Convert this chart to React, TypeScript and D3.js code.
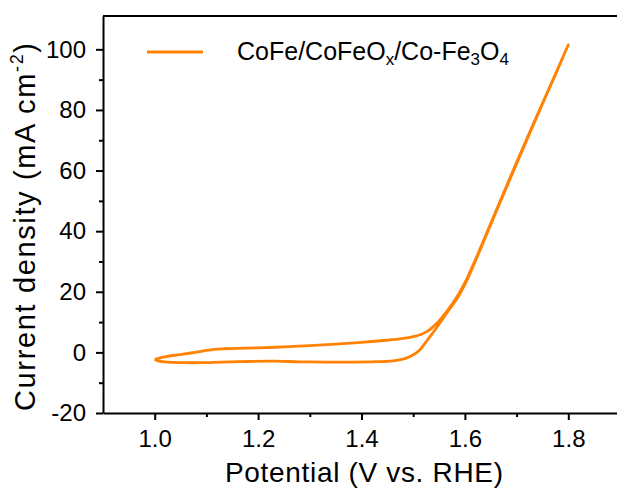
import React, { useEffect, useRef } from 'react'
import * as d3 from 'd3'

/* svg size and plot frame (right edge sits just past the window like the original) */
const width = 617
const height = 488
const margin = { top: 16, right: -3, bottom: 75, left: 103 }
const font = '"Liberation Sans", Arial, sans-serif'
const lineColor = '#ff8204'

/* CV loop: anodic sweep then the return sweep */
const forwardV = [1.0, 1.01, 1.025, 1.045, 1.07, 1.095, 1.115, 1.135, 1.16, 1.2, 1.25, 1.3, 1.35, 1.4, 1.45, 1.48, 1.5, 1.515, 1.528, 1.538, 1.55, 1.562, 1.575, 1.588, 1.6, 1.612, 1.625, 1.65, 1.675, 1.7, 1.725, 1.75, 1.775, 1.8]
const forwardJ = [-2.3, -1.8, -1.3, -0.8, -0.2, 0.5, 1.0, 1.2, 1.3, 1.5, 1.8, 2.2, 2.7, 3.3, 4.0, 4.6, 5.2, 5.9, 7.0, 8.4, 10.4, 12.9, 15.9, 19.3, 23.0, 27.4, 32.4, 42.6, 52.7, 62.7, 72.5, 82.2, 91.8, 101.5]
const reverseV = [1.775, 1.75, 1.725, 1.7, 1.675, 1.65, 1.625, 1.6, 1.588, 1.575, 1.563, 1.552, 1.542, 1.532, 1.522, 1.513, 1.503, 1.492, 1.48, 1.465, 1.445, 1.42, 1.38, 1.33, 1.28, 1.23, 1.18, 1.13, 1.09, 1.06, 1.035, 1.018, 1.005, 1.0]
const reverseJ = [91.6, 82.0, 72.2, 62.3, 52.3, 42.2, 32.0, 22.4, 18.6, 15.4, 12.5, 9.8, 7.4, 5.1, 2.8, 0.9, -0.5, -1.5, -2.2, -2.7, -3.0, -3.1, -3.2, -3.2, -3.1, -2.9, -3.0, -3.2, -3.4, -3.4, -3.3, -3.1, -2.7, -2.3]

/* axis ticks */
const xDomain = [0.9, 1.9]
const yDomain = [-20, 111]
const xMajorTicks = [1.0, 1.2, 1.4, 1.6, 1.8]
const xMinorTicks = [1.1, 1.3, 1.5, 1.7]
const yMajorTicks = [-20, 0, 20, 40, 60, 80, 100]
const yMinorTicks = [-10, 10, 30, 50, 70, 90]

const xTitle = 'Potential (V vs. RHE)'
const yTitle = 'Current density (mA cm'

export default function App() {
    const xAxis = useRef<SVGGElement>(null)
    const xAxisMinor = useRef<SVGGElement>(null)
    const yAxis = useRef<SVGGElement>(null)
    const yAxisMinor = useRef<SVGGElement>(null)

    const xScale = d3
        .scaleLinear()
        .domain(xDomain)
        .range([margin.left, width - margin.right])
    const yScale = d3
        .scaleLinear()
        .domain(yDomain)
        .range([height - margin.bottom, margin.top])

    const points = [
        ...forwardV.map((v, i) => [v, forwardJ[i]]),
        ...reverseV.map((v, i) => [v, reverseJ[i]]),
    ]
    const path = d3
        .line<number[]>()
        .x((d) => xScale(d[0]))
        .y((d) => yScale(d[1]))
        .curve(d3.curveCatmullRom.alpha(0.5))(points)

    useEffect(() => {
        const styleAxis = (sel: any) => {
            sel.select('.domain').attr('stroke-width', 2)
            sel.selectAll('.tick line').attr('stroke-width', 2)
            sel.selectAll('.tick text')
                .attr('font-size', 24)
                .attr('font-family', font)
                .attr('fill', '#000')
        }
        d3.select(xAxis.current)
            .call(
                d3.axisBottom(xScale)
                    .tickValues(xMajorTicks)
                    .tickSize(7)
                    .tickSizeOuter(0)
                    .tickPadding(10)
                    .tickFormat(d3.format('.1f'))
            )
            .call(styleAxis)
        d3.select(xAxisMinor.current)
            .call(
                d3.axisBottom(xScale)
                    .tickValues(xMinorTicks)
                    .tickSize(4)
                    .tickFormat(() => '')
            )
            .call(styleAxis)
            .select('.domain')
            .remove()
        d3.select(yAxis.current)
            .call(
                d3.axisLeft(yScale)
                    .tickValues(yMajorTicks)
                    .tickSize(7)
                    .tickSizeOuter(0)
                    .tickPadding(10)
                    .tickFormat((d) => String(d)) // plain hyphen like the original
            )
            .call(styleAxis)
        d3.select(yAxisMinor.current)
            .call(
                d3.axisLeft(yScale)
                    .tickValues(yMinorTicks)
                    .tickSize(4)
                    .tickFormat(() => '')
            )
            .call(styleAxis)
            .select('.domain')
            .remove()
    }, [])

    const bottom = height - margin.bottom

    return (
        <svg
            width={width}
            height={height}
            style={{ position: 'absolute', left: 0, top: 0, background: '#fff' }}
        >
            {/* top frame line */}
            <line
                x1={margin.left}
                x2={width - margin.right}
                y1={margin.top}
                y2={margin.top}
                stroke="#000"
                strokeWidth={2}
            />
            {/* cv loop */}
            <path d={path ?? ''} fill="none" stroke={lineColor} strokeWidth={2.8} strokeLinejoin="round" />

            {/* axes */}
            <g ref={xAxis} transform={`translate(0, ${bottom})`} />
            <g ref={xAxisMinor} transform={`translate(0, ${bottom})`} />
            <g ref={yAxis} transform={`translate(${margin.left}, 0)`} />
            <g ref={yAxisMinor} transform={`translate(${margin.left}, 0)`} />

            {/* legend */}
            <line x1={147} x2={203} y1={52} y2={52} stroke={lineColor} strokeWidth={3} />
            <text x={237} y={60} fontSize={25} fontFamily={font}>
                CoFe/CoFeO
                <tspan dy={5} fontSize={17}>x</tspan>
                <tspan dy={-5}>/Co-Fe</tspan>
                <tspan dy={5} fontSize={17}>3</tspan>
                <tspan dy={-5}>O</tspan>
                <tspan dy={5} fontSize={17}>4</tspan>
            </text>

            {/* axis titles */}
            <text
                x={364}
                y={482}
                fontSize={28}
                fontFamily={font}
                textAnchor="middle"
                textLength={278}
            >
                {xTitle}
            </text>
            <text
                transform={`translate(35, 227) rotate(-90)`}
                fontSize={29}
                fontFamily={font}
                textAnchor="middle"
                textLength={368}
            >
                {yTitle}
                <tspan dy={-12} fontSize={18}>-2</tspan>
                <tspan dy={12}>)</tspan>
            </text>
        </svg>
    )
}
